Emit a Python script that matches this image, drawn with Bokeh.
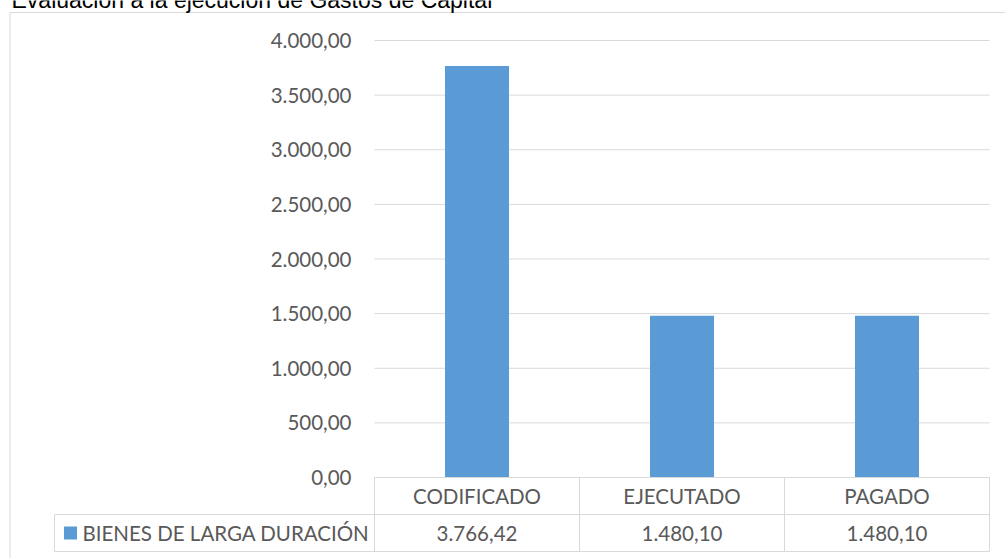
from bokeh.plotting import figure
from bokeh.models import Range1d, ColumnDataSource
from bokeh.core.properties import value
from bokeh.embed import file_html
from bokeh.resources import INLINE

# ---------------- data ----------------
title_text = "Evaluación a la ejecución de Gastos de Capital"
series_name = "BIENES DE LARGA DURACIÓN"
categories = ["CODIFICADO", "EJECUTADO", "PAGADO"]
values = [3766.42, 1480.10, 1480.10]
y_ticks = [0, 500, 1000, 1500, 2000, 2500, 3000, 3500, 4000]


def es_fmt(v):
    s = f"{v:,.2f}"
    return s.replace(",", "X").replace(".", ",").replace("X", ".")


# ---------------- layout (pixels) ----------------
W, H = 1005, 558
X0, CW = 374, 205          # left of plot area, width of one category
Y0, YTOP, YMAX = 477, 40, 4000
ROW = 37
ppu = (Y0 - YTOP) / YMAX

BAR_COLOR = "#5b9bd5"
LINE_COLOR = "#d9d9d9"
TEXT_COLOR = "#595959"
FONT = "Lato"
FSIZE = "20.5px"


def px_x(px):
    return (px - X0) / CW


def px_t(py):
    return (Y0 - py) / ROW


p = figure(
    width=W, height=H,
    x_range=Range1d(-X0 / CW, (W - X0) / CW),
    y_range=Range1d(-(H - Y0) / ppu, Y0 / ppu),
    output_backend="svg", toolbar_location=None,
    x_axis_location=None, y_axis_location=None,
    min_border=0, outline_line_color=None,
)
p.extra_y_ranges = {"tbl": Range1d(-(H - Y0) / ROW, Y0 / ROW)}
p.grid.visible = False
p.background_fill_color = "white"
p.border_fill_color = "white"

n = len(categories)
centers = [i + 0.5 for i in range(n)]

# outer chart border (left and top)
p.segment(x0=[px_x(9.5), px_x(9.5)], y0=[px_t(12), px_t(12)],
          x1=[px_x(9.5), px_x(W)], y1=[px_t(H), px_t(12)],
          y_range_name="tbl", line_color=LINE_COLOR, line_width=1)

# gridlines
gl = [t for t in y_ticks if t > 0]
p.segment(x0=[0] * len(gl), y0=gl, x1=[n] * len(gl), y1=gl,
          line_color=LINE_COLOR, line_width=1)

# y tick labels
p.text(x=[0] * len(y_ticks), y=y_ticks, text=[es_fmt(t) for t in y_ticks],
       x_offset=-23, text_align="right", text_baseline="middle",
       text_font=value(FONT), text_font_size=FSIZE, text_color=TEXT_COLOR)

# bars
src = ColumnDataSource(dict(x=centers, top=values))
p.vbar(x="x", top="top", bottom=0, width=64 / CW, source=src,
       fill_color=BAR_COLOR, line_color=None)

# data table lines
lx = px_x(54)
hx0 = [0, lx, lx]
hy = [0, -1, -2]
p.segment(x0=hx0, y0=hy, x1=[n] * 3, y1=hy, y_range_name="tbl",
          line_color=LINE_COLOR, line_width=1)
vx = [lx] + list(range(n + 1))
vy0 = [-1] + [0] * (n + 1)
p.segment(x0=vx, y0=vy0, x1=vx, y1=[-2] * len(vx), y_range_name="tbl",
          line_color=LINE_COLOR, line_width=1)

# table texts
p.text(x=centers, y=[-0.5] * n, text=categories, y_range_name="tbl",
       text_align="center", text_baseline="middle",
       text_font=value(FONT), text_font_size=FSIZE, text_color=TEXT_COLOR)
p.text(x=centers, y=[-1.5] * n, text=[es_fmt(v) for v in values],
       y_range_name="tbl", text_align="center", text_baseline="middle",
       text_font=value(FONT), text_font_size=FSIZE, text_color=TEXT_COLOR)

# legend key in table
p.scatter(x=[px_x(70)], y=[-1.5], marker="square", size=13,
          fill_color=BAR_COLOR, line_color=None, y_range_name="tbl")
p.text(x=[px_x(82)], y=[-1.5], text=[series_name], y_range_name="tbl",
       text_align="left", text_baseline="middle",
       text_font=value(FONT), text_font_size=FSIZE, text_color=TEXT_COLOR)

# title (cut at the top as in the original)
p.text(x=[px_x(11)], y=[px_t(-1)], text=[title_text], y_range_name="tbl",
       text_align="left", text_baseline="alphabetic",
       text_font=value("Liberation Sans"), text_font_size="23px",
       text_color="#000000")

open("out.html", "w").write(file_html(p, INLINE))
